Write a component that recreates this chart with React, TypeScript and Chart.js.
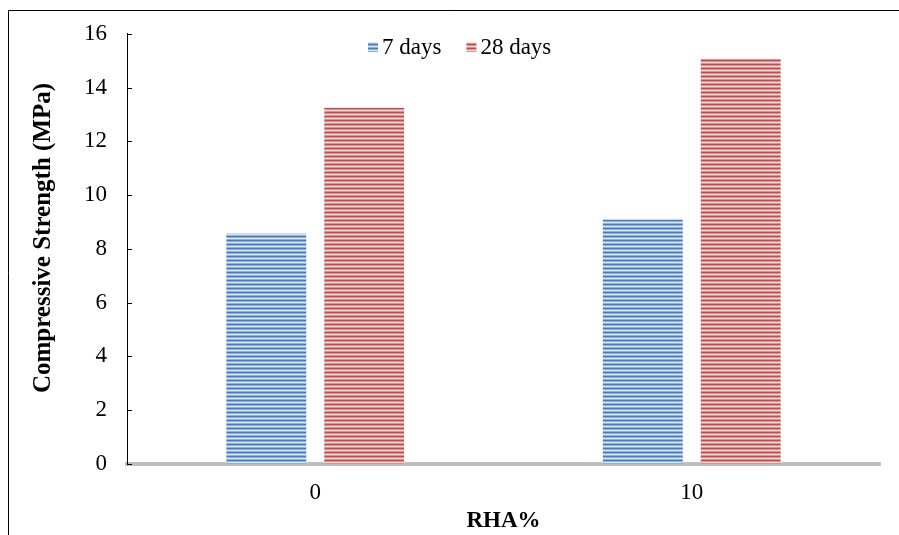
import React, { useEffect, useRef } from "react";
import { Chart, registerables } from "chart.js";

Chart.register(...registerables);

const categories = ["0", "10"];
const seriesNames = ["7 days", "28 days"];
const days7 = [8.57, 9.09];
const days28 = [13.25, 15.07];
const yTicks = [0, 2, 4, 6, 8, 10, 12, 14, 16];
const yTitle = "Compressive Strength (MPa)";
const xTitle = "RHA%";

const FONT = "'Liberation Serif', 'Times New Roman', serif";

function makeStripe(dark: string, mid: string, light: string): CanvasPattern | string {
  const c = document.createElement("canvas");
  c.width = 4;
  c.height = 4;
  const g = c.getContext("2d");
  if (!g) return dark;
  g.fillStyle = dark;
  g.fillRect(0, 0, 4, 1);
  g.fillStyle = mid;
  g.fillRect(0, 1, 4, 1);
  g.fillStyle = light;
  g.fillRect(0, 2, 4, 1);
  g.fillStyle = mid;
  g.fillRect(0, 3, 4, 1);
  const p = g.createPattern(c, "repeat");
  return p || dark;
}

const framePlugin = {
  id: "frame",
  beforeDraw(chart: any) {
    const ctx = chart.ctx;
    ctx.save();
    ctx.fillStyle = "#ffffff";
    ctx.fillRect(0, 0, chart.width, chart.height);
    ctx.strokeStyle = "#000000";
    ctx.lineWidth = 1;
    ctx.beginPath();
    ctx.moveTo(8.5, chart.height);
    ctx.lineTo(8.5, 10.5);
    ctx.lineTo(chart.width, 10.5);
    ctx.stroke();
    ctx.restore();
  },
};

// inside tick marks and rotated y title
const axisExtrasPlugin = {
  id: "axisExtras",
  afterDraw(chart: any) {
    const ctx = chart.ctx;
    const ys = chart.scales.y;
    const area = chart.chartArea;
    ctx.save();
    ctx.strokeStyle = "#000";
    ctx.lineWidth = 1;
    ys.ticks.forEach((t: any) => {
      const py = Math.round(ys.getPixelForValue(t.value)) + 0.5;
      ctx.beginPath();
      ctx.moveTo(area.left, py);
      ctx.lineTo(area.left + 5, py);
      ctx.stroke();
    });
    ctx.translate(44, 238);
    ctx.rotate(-Math.PI / 2);
    ctx.font = `bold 25px ${FONT}`;
    ctx.fillStyle = "#000";
    ctx.textAlign = "center";
    ctx.textBaseline = "middle";
    ctx.fillText(yTitle, 0, 0);
    ctx.restore();
  },
};

const legendPlugin = {
  id: "customLegend",
  afterDraw(chart: any) {
    const ctx = chart.ctx;
    const ds = chart.data.datasets;
    ctx.save();
    ctx.font = `23px ${FONT}`;
    ctx.textBaseline = "middle";
    const box = 10;
    const gapBoxText = 4;
    const gapItems = 25;
    let x = 368;
    const y = 47;
    ds.forEach((d: any) => {
      ctx.fillStyle = d.backgroundColor;
      ctx.fillRect(x, y - box / 2, box, box);
      ctx.fillStyle = "#000";
      ctx.textAlign = "left";
      ctx.fillText(d.label, x + box + gapBoxText, y + 1);
      x += box + gapBoxText + ctx.measureText(d.label).width + gapItems;
    });
    ctx.restore();
  },
};

export default function App() {
  const ref = useRef<HTMLCanvasElement | null>(null);

  useEffect(() => {
    if (!ref.current) return;
    const bluePat = makeStripe("#4a7ebb", "#8eb0dc", "#dce6f4");
    const redPat = makeStripe("#c0504d", "#dc8f8d", "#f6dcdb");
    const chart = new Chart(ref.current, {
      type: "bar",
      data: {
        labels: categories,
        datasets: [
          { label: seriesNames[0], data: days7, backgroundColor: bluePat as any, borderWidth: 0 },
          { label: seriesNames[1], data: days28, backgroundColor: redPat as any, borderWidth: 0 },
        ],
      },
      options: {
        animation: false,
        responsive: false,
        maintainAspectRatio: false,
        events: [],
        layout: { padding: { left: 0, top: 28, right: 19, bottom: 0 } },
        datasets: { bar: { categoryPercentage: 0.52, barPercentage: 0.816 } },
        plugins: {
          legend: { display: false },
          tooltip: { enabled: false },
          title: { display: false },
        },
        scales: {
          x: {
            type: "category",
            grid: { display: false, drawTicks: false },
            border: { display: true, color: "#bfbfbf", width: 4 },
            ticks: { color: "#000", font: { family: FONT, size: 23 }, padding: 15 },
            title: {
              display: true,
              text: xTitle,
              color: "#000",
              font: { family: FONT, size: 23, weight: "bold" },
              padding: { top: 0, bottom: 0 },
            },
            afterFit: (s: any) => {
              s.height = 71;
            },
          },
          y: {
            min: 0,
            max: 16,
            afterBuildTicks: (s: any) => {
              s.ticks = yTicks.map((v) => ({ value: v }));
            },
            grid: { display: false, drawTicks: false },
            border: { display: true, color: "#000", width: 1 },
            ticks: {
              color: "#000",
              font: { family: FONT, size: 23 },
              padding: 20,
            },
            afterFit: (s: any) => {
              s.width = 127;
            },
          },
        },
      },
      plugins: [framePlugin, axisExtrasPlugin, legendPlugin],
    });
    return () => chart.destroy();
  }, []);

  return (
    <div style={{ position: "fixed", left: 0, top: 0, width: 899, height: 535, background: "#fff" }}>
      <canvas ref={ref} width={899} height={535} style={{ display: "block", width: 899, height: 535 }} />
    </div>
  );
}
